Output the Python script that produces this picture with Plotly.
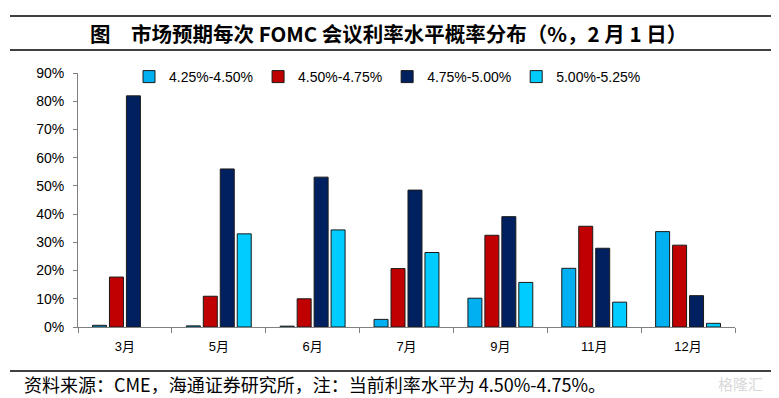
import plotly.graph_objects as go

categories = ["3月", "5月", "6月", "7月", "9月", "11月", "12月"]
series_names = ["4.25%-4.50%", "4.50%-4.75%", "4.75%-5.00%", "5.00%-5.25%"]
s_425_450 = [0.6, 0.4, 0.3, 2.7, 10.2, 20.8, 33.8]
s_450_475 = [17.7, 10.9, 10.0, 20.7, 32.5, 35.7, 29.0]
s_475_500 = [81.9, 56.0, 53.1, 48.5, 39.1, 27.9, 11.1]
s_500_525 = [None, 33.0, 34.4, 26.4, 15.8, 8.8, 1.3]
y_ticks = [0, 10, 20, 30, 40, 50, 60, 70, 80, 90]
y_tick_labels = [f"{v}%" for v in y_ticks]

colors = ["#00B0F0", "#C00000", "#002060", "#00CCFF"]
all_series = [s_425_450, s_450_475, s_475_500, s_500_525]

fig = go.Figure()
for name, vals, col in zip(series_names, all_series, colors):
    fig.add_trace(go.Bar(
        x=categories, y=vals, name=name,
        marker=dict(color=col, line=dict(color="#1a1a1a", width=1)),
    ))

# page body has an 8px margin; compensate
OFF = 8
W, H = 779 - OFF, 398 - OFF
L, R, T, B = 78 - OFF, 44, 73 - OFF, 71
pw, ph = W - L - R, H - T - B

def px_x(x):
    return (x - OFF - L) / pw

def px_y(y):
    return (H - B - (y - OFF)) / ph

fig.update_layout(
    width=W, height=H,
    margin=dict(l=L, r=R, t=T, b=B),
    paper_bgcolor="white", plot_bgcolor="white",
    barmode="group", bargap=0.277, bargroupgap=0.176,
    font=dict(family="Liberation Sans, Arial, Noto Sans CJK SC", size=14, color="black"),
    showlegend=True,
    legend=dict(
        orientation="h", x=px_x(129), y=px_y(77), yanchor="middle", xanchor="left",
        font=dict(size=14, family="Liberation Sans, Arial"),
        bgcolor="rgba(0,0,0,0)", itemwidth=30,
        traceorder="normal",
    ),
    xaxis=dict(
        showline=True, linecolor="#808080", linewidth=1,
        ticks="outside", tickson="boundaries", ticklen=5, tickcolor="#808080",
        tickfont=dict(size=13, family="Liberation Sans, Noto Sans CJK SC"),
        ticklabelstandoff=7,
        showgrid=False,
    ),
    yaxis=dict(
        range=[0, 90], tickvals=y_ticks, ticktext=y_tick_labels,
        showline=True, linecolor="#808080", linewidth=1,
        ticks="outside", ticklen=4, tickcolor="#808080",
        tickfont=dict(size=14, family="Liberation Sans, Arial"),
        ticklabelstandoff=6,
        showgrid=False, zeroline=False,
    ),
    shapes=[
        dict(type="line", xref="paper", yref="paper", x0=px_x(10), x1=px_x(774),
             y0=px_y(16), y1=px_y(16), line=dict(color="black", width=1.5)),
        dict(type="line", xref="paper", yref="paper", x0=px_x(10), x1=px_x(774),
             y0=px_y(50), y1=px_y(50), line=dict(color="black", width=1.5)),
        dict(type="line", xref="paper", yref="paper", x0=px_x(10), x1=px_x(774),
             y0=px_y(371), y1=px_y(371), line=dict(color="black", width=1.5)),
    ],
    annotations=[
        dict(xref="paper", yref="paper", x=px_x(88), y=px_y(33), xanchor="left", yanchor="middle",
             text="<b>图　市场预期每次 FOMC 会议利率水平概率分布（%，2 月 1 日）</b>",
             showarrow=False, font=dict(size=20.5, family="Noto Sans CJK SC", color="black")),
        dict(xref="paper", yref="paper", x=px_x(22), y=px_y(384), xanchor="left", yanchor="middle",
             text="资料来源：CME，海通证券研究所，注：当前利率水平为 4.50%-4.75%。",
             showarrow=False, font=dict(size=18, family="Noto Sans CJK SC, Liberation Sans", color="black")),
        dict(xref="paper", yref="paper", x=px_x(740), y=px_y(383), xanchor="center", yanchor="middle",
             text="格隆汇", showarrow=False,
             font=dict(size=15, family="Noto Sans CJK SC", color="#d8d8d8")),
    ],
)

fig.write_html("out.html")
